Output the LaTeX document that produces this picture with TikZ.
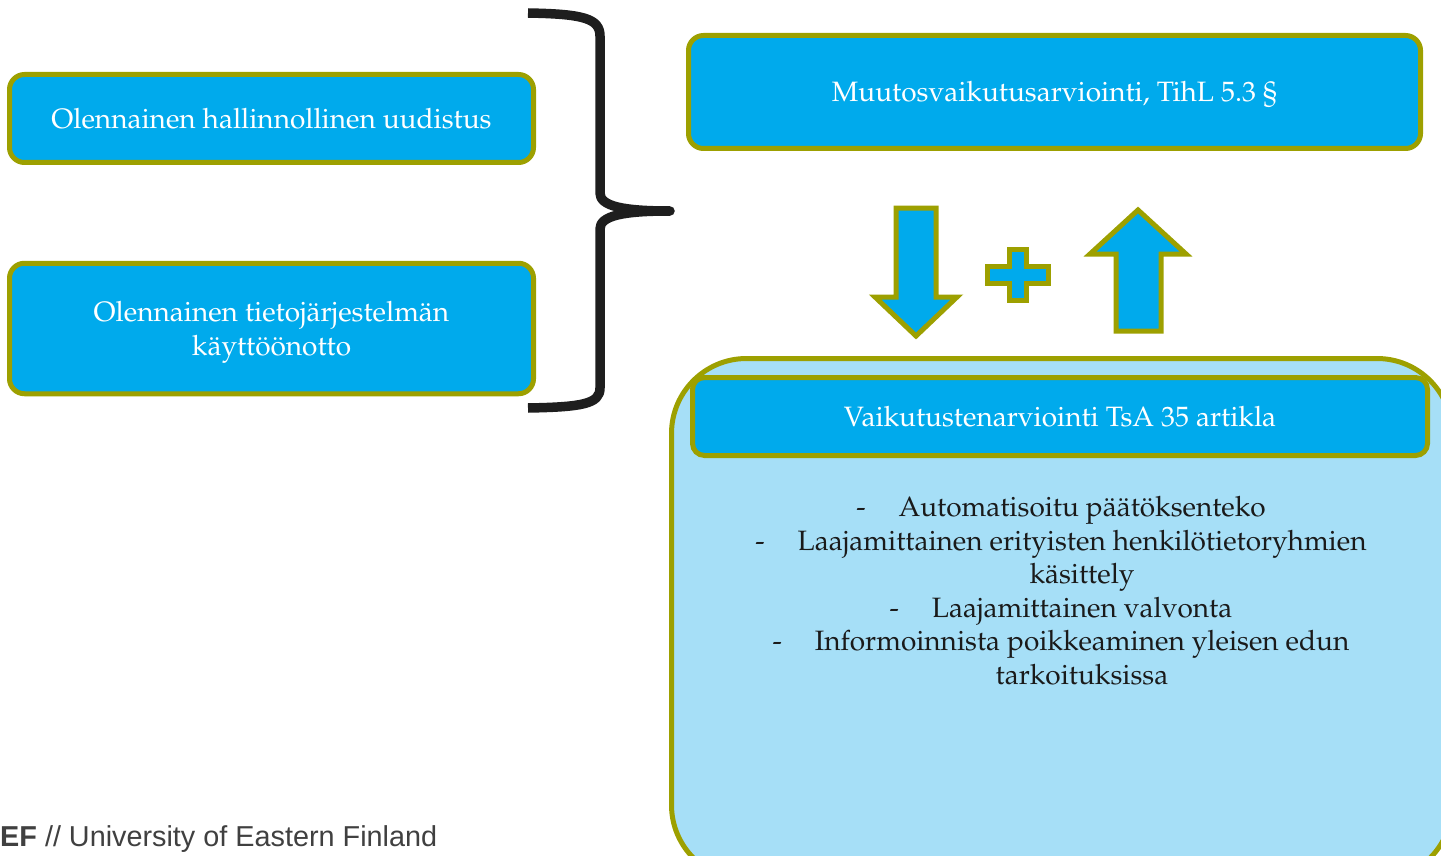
\documentclass[tikz,border=0pt]{standalone}
\usepackage[T1]{fontenc}
\usepackage{fontspec}
\newfontfamily\footfont{Liberation Sans}
\newcommand{\palfont}{\usefont{T1}{ppl}{m}{n}}
\definecolor{boxblue}{RGB}{0,170,236}
\definecolor{olivec}{RGB}{157,160,0}
\definecolor{lightbl}{RGB}{166,223,247}
\definecolor{bracec}{RGB}{30,30,30}
\definecolor{footgray}{RGB}{64,64,64}
\definecolor{listc}{RGB}{26,26,26}
\tikzset{
  bluebox/.style={draw=olivec, line width=5pt, fill=boxblue, rounded corners=15pt,
    text=white, align=center, inner sep=0pt, font=\palfont\fontsize{28}{34}\selectfont},
  shapeblk/.style={draw=olivec, line width=5pt, fill=boxblue, line join=miter},
  bracestyle/.style={draw=bracec, line width=9.5pt, line join=round}
}
\begin{document}
\begin{tikzpicture}[x=1pt,y=-1pt]
\useasboundingbox (0,0) rectangle (1441,856);
% big light box
\draw[draw=olivec, line width=5pt, fill=lightbl, rounded corners=75pt] (671.5,358.5) rectangle (1452,880);
% boxes
\node[bluebox, minimum width=524pt, minimum height=88pt] (b1) at (271.5,118.5) {Olennainen hallinnollinen uudistus};
\node[bluebox, minimum width=524pt, minimum height=130.5pt] (b2) at (271.5,328.5) {\raisebox{-3.5pt}[\height][\depth]{\begin{tabular}{@{}c@{}}Olennainen tietoj\"arjestelm\"an\\k\"aytt\"o\"onotto\end{tabular}}};
\node[bluebox, minimum width=732pt, minimum height=113pt] (b3) at (1054.5,92) {\raisebox{-2pt}[\height][\depth]{Muutosvaikutusarviointi, TihL 5.3 \S}};
\node[bluebox, rounded corners=12pt, minimum width=735pt, minimum height=78pt] (b4) at (1060,416.5) {Vaikutustenarviointi TsA 35 artikla};
% list
\node[text=listc, align=center, inner sep=0pt, font=\palfont\fontsize{28}{33.6}\selectfont, anchor=north] (lst) at (1061,496)
{-\hspace{33pt}Automatisoitu p\"a\"at\"oksenteko\\
-\hspace{33pt}Laajamittainen erityisten henkil\"otietoryhmien\\
\hspace*{42pt}k\"asittely\\
-\hspace{33pt}Laajamittainen valvonta\\
-\hspace{33pt}Informoinnista poikkeaminen yleisen edun\\
\hspace*{42pt}tarkoituksissa};
% brace
\draw[bracestyle] (528,13) .. controls (582,14) and (600,18) .. (600,36) -- (600,193)
  .. controls (600,206) and (622,211) .. (670,211)
  .. controls (622,211) and (600,216) .. (600,229) -- (600,388)
  .. controls (600,404) and (582,407) .. (528,408);
% arrows and plus
\draw[shapeblk] (896,208) -- (936,208) -- (936,297) -- (957,297) -- (916,336) -- (875,297) -- (896,297) -- cycle;
\draw[shapeblk] (1116,331) -- (1161,331) -- (1161,254) -- (1186,254) -- (1138,210) -- (1090,254) -- (1116,254) -- cycle;
\draw[shapeblk] (1009.5,249.5) -- (1026.5,249.5) -- (1026.5,266.5) -- (1048.5,266.5) -- (1048.5,283.5) -- (1026.5,283.5) -- (1026.5,300.5) -- (1009.5,300.5) -- (1009.5,283.5) -- (987.5,283.5) -- (987.5,266.5) -- (1009.5,266.5) -- cycle;
% footer
\node[anchor=base west, inner sep=0pt, text=footgray, font=\footfont\fontsize{28.8}{30}\selectfont] (foot) at (0,846) {\textbf{EF} // University of Eastern Finland};
\end{tikzpicture}
\end{document}
